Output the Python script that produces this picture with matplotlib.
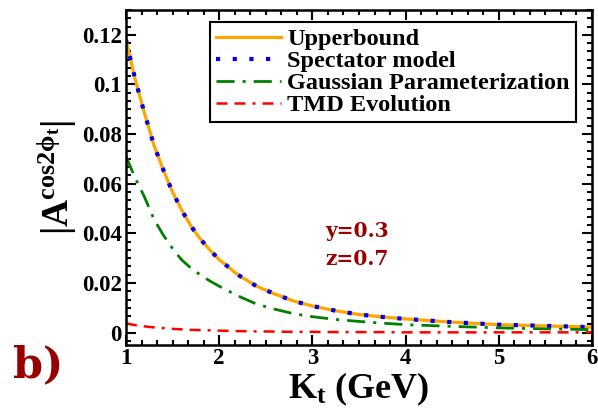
import matplotlib
matplotlib.use("Agg")
import matplotlib.pyplot as plt
from matplotlib.ticker import AutoMinorLocator

plt.rcParams['mathtext.fontset'] = 'custom'
plt.rcParams['mathtext.rm'] = 'Liberation Serif:bold'
plt.rcParams['mathtext.it'] = 'Liberation Serif:bold'
plt.rcParams['mathtext.bf'] = 'Liberation Serif:bold'
plt.rcParams['font.family'] = ['Liberation Serif', 'DejaVu Serif']
plt.rcParams['font.weight'] = 'bold'

# ---- data ----
kt = [1.0, 1.1, 1.2, 1.3, 1.4, 1.5, 1.6, 1.7, 1.8, 1.9, 2.0, 2.2, 2.4, 2.6,
      2.8, 3.0, 3.25, 3.5, 3.75, 4.0, 4.5, 5.0, 5.5, 6.0]
upperbound = [0.118, 0.1018, 0.0882, 0.0755, 0.0656, 0.0566, 0.0492, 0.0427,
              0.0376, 0.0333, 0.0294, 0.0233, 0.0187, 0.0155, 0.0127, 0.0107,
              0.0088, 0.0073, 0.0063, 0.0055, 0.0042, 0.0032, 0.0027, 0.0022]
spectator = [0.118, 0.1018, 0.0882, 0.0755, 0.0656, 0.0566, 0.0492, 0.0427,
             0.0376, 0.0333, 0.0294, 0.0233, 0.0187, 0.0155, 0.0127, 0.0107,
             0.0088, 0.0073, 0.0063, 0.0055, 0.0042, 0.0032, 0.0027, 0.0022]
gaussian = [0.071, 0.0622, 0.0545, 0.0457, 0.0393, 0.0338, 0.0292, 0.0259,
            0.0232, 0.0208, 0.0187, 0.0148, 0.0115, 0.0094, 0.0076, 0.0064,
            0.0053, 0.0045, 0.0038, 0.0032, 0.0025, 0.0019, 0.0015, 0.0012]
tmd = [0.0037, 0.0030, 0.0025, 0.0021, 0.0018, 0.0015, 0.0013, 0.0011,
       0.0010, 0.0009, 0.0008, 0.0006, 0.0005, 0.0004, 0.0003, 0.0003,
       0.0002, 0.0002, 0.0002, 0.0001, 0.0001, 0.0001, 0.0001, 0.0001]
labels = ["Upperbound", "Spectator model", "Gaussian Parameterization", "TMD Evolution"]
xticks = [1, 2, 3, 4, 5, 6]
yticks = [0, 0.02, 0.04, 0.06, 0.08, 0.1, 0.12]
yticklabels = ["0", "0.02", "0.04", "0.06", "0.08", "0.1", "0.12"]

fig = plt.figure(figsize=(5.98, 4.08), dpi=100)
ax = fig.add_axes([0.2107, 0.1544, 0.7793, 0.8211])

ax.plot(kt, upperbound, color='#FFA500', lw=2.3, label=labels[0])
ax.plot(kt, spectator, color='#0000EE', lw=3.0, linestyle=(0, (1, 3)),
        dash_capstyle='butt', label=labels[1])
ax.plot(kt, gaussian, color='#008000', lw=2.0, linestyle=(0, (6.5, 2.9, 1.1, 2.9)),
        label=labels[2])
ax.plot(kt, tmd, color='#FF0000', lw=1.8,
        linestyle=(0, (4.4, 2.8, 4.4, 2.8, 1.2, 2.8)), label=labels[3])

ax.set_xlim(1, 6)
ax.set_ylim(-0.005, 0.13)
ax.set_xticks(xticks)
ax.set_xticklabels([str(v) for v in xticks])
ax.set_yticks(yticks)
ax.set_yticklabels(yticklabels)
ax.xaxis.set_minor_locator(AutoMinorLocator(6))
ax.yaxis.set_minor_locator(AutoMinorLocator(6))
ax.tick_params(which='both', direction='in', top=True, right=True, width=1.5,
               labelsize=16.5)
ax.tick_params(which='major', length=7)
ax.tick_params(which='minor', length=3.6)
ax.tick_params(axis='x', pad=2)
ax.tick_params(axis='y', pad=3)
for s in ax.spines.values():
    s.set_linewidth(1.8)

ax.set_xlabel(r'$\mathrm{K_t}$ (GeV)', fontsize=26, fontweight='bold', labelpad=1)
ax.set_ylabel(r'$|\mathrm{A}^{\mathrm{cos2}\phi_{\mathrm{t}}}|$', fontsize=27, labelpad=2)

leg = ax.legend(loc='upper right', bbox_to_anchor=(0.9657, 0.964),
                borderaxespad=0, fontsize=17.5, handlelength=2.7,
                labelspacing=0.0, handletextpad=0.25, borderpad=0.25,
                fancybox=False, framealpha=1)
leg.get_frame().set_edgecolor('black')
leg.get_frame().set_linewidth(1.5)

ax.text(3.135, 0.0386, 'y=0.3', color='#990000', fontsize=14.5,
        family='DejaVu Serif', fontweight='bold')
ax.text(3.135, 0.0273, 'z=0.7', color='#990000', fontsize=14.5,
        family='DejaVu Serif', fontweight='bold')
fig.text(13 / 598, 1 - 377 / 408, 'b)', color='#990000', fontsize=31,
         family='DejaVu Serif', fontweight='bold')

fig.savefig('out.png', dpi=100)
